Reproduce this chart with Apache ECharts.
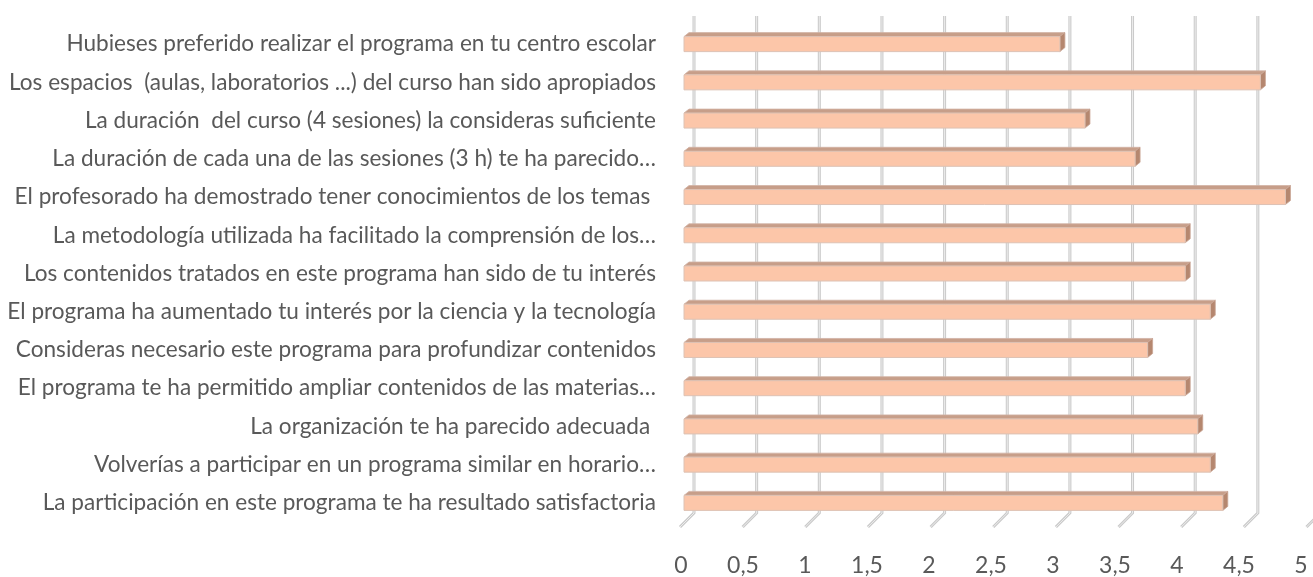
<!DOCTYPE html>
<html>
<head>
<meta charset="utf-8">
<script src="https://cdn.jsdelivr.net/npm/echarts@6/dist/echarts.min.js"></script>
<style>
html,body{margin:0;padding:0;background:#fff;}
#chart{width:1313px;height:577px;}
</style>
</head>
<body>
<div id="chart"></div>
<script>
const categories = [
  'Hubieses preferido realizar el programa en tu centro escolar',
  'Los espacios  (aulas, laboratorios ...) del curso han sido apropiados',
  'La duración  del curso (4 sesiones) la consideras suficiente',
  'La duración de cada una de las sesiones (3 h) te ha parecido…',
  'El profesorado ha demostrado tener conocimientos de los temas ',
  'La metodología utilizada ha facilitado la comprensión de los…',
  'Los contenidos tratados en este programa han sido de tu interés',
  'El programa ha aumentado tu interés por la ciencia y la tecnología',
  'Consideras necesario este programa para profundizar contenidos',
  'El programa te ha permitido ampliar contenidos de las materias…',
  'La organización te ha parecido adecuada ',
  'Volverías a participar en un programa similar en horario…',
  'La participación en este programa te ha resultado satisfactoria'
];
const values = [3.0, 4.6, 3.2, 3.6, 4.8, 4.0, 4.0, 4.2, 3.7, 4.0, 4.1, 4.2, 4.3];
const ticks = [0, 0.5, 1, 1.5, 2, 2.5, 3, 3.5, 4, 4.5, 5];
const tickLabels = ['0', '0,5', '1', '1,5', '2', '2,5', '3', '3,5', '4', '4,5', '5'];

const FONT = 'Lato, "Open Sans", sans-serif';
const chart = echarts.init(document.getElementById('chart'), null, {renderer: 'canvas'});

function renderGrid(params, api) {
  const cs = params.coordSys;
  const x = api.coord([api.value(0), 0])[0];
  const bottom = cs.y + cs.height;
  const pts = [[x + 10, cs.y - 9], [x + 10, bottom - 9], [x - 4, bottom + 5]];
  return {
    type: 'group',
    children: [
      {type: 'polyline', shape: {points: pts}, style: {stroke: '#c9c9c9', lineWidth: 3, fill: null}},
      {type: 'polyline', shape: {points: pts}, style: {stroke: '#ededed', lineWidth: 1, fill: null}}
    ]
  };
}

function renderBar(params, api) {
  const i = api.value(1);
  const p0 = api.coord([0, i]);
  const p1 = api.coord([api.value(0), i]);
  const cy = p0[1];
  const x0 = p0[0], x1 = p1[0];
  const t = cy - 7.5, b = cy + 7.5, dx = 5, dy = 4;
  return {
    type: 'group',
    children: [
      {type: 'polygon', shape: {points: [[x0, t], [x0 + dx, t - dy], [x1 + dx, t - dy], [x1, t]]},
        style: {fill: '#c79e89', stroke: '#d2b3a4', lineWidth: 0.8}},
      {type: 'polygon', shape: {points: [[x1, t], [x1 + dx, t - dy], [x1 + dx, b - dy], [x1, b]]},
        style: {fill: '#b5876f', stroke: '#c9a594', lineWidth: 0.8}},
      {type: 'rect', shape: {x: x0, y: t, width: x1 - x0, height: b - t},
        style: {fill: '#fcc6a9', stroke: '#ddc2b4', lineWidth: 1}}
    ]
  };
}

chart.setOption({
  animation: false,
  backgroundColor: '#ffffff',
  grid: [
    {left: 684, width: 626.5, top: 25, height: 497, containLabel: false},
    {left: 681, width: 620, top: 540, height: 10, containLabel: false}
  ],
  xAxis: [
    {gridIndex: 0, type: 'value', min: 0, max: 5, interval: 0.5, show: false},
    {gridIndex: 1, type: 'value', min: 0, max: 5, interval: 0.5,
      axisLine: {show: false}, axisTick: {show: false}, splitLine: {show: false},
      axisLabel: {margin: 4, color: '#595959', fontFamily: FONT, fontSize: 23,
        formatter: function (v) { return tickLabels[ticks.indexOf(v)]; }}}
  ],
  yAxis: [
    {gridIndex: 0, type: 'category', data: categories, inverse: true,
      axisLine: {show: false}, axisTick: {show: false}, splitLine: {show: false},
      axisLabel: {margin: 28, color: '#595959', fontFamily: FONT, fontSize: 22.6}},
    {gridIndex: 1, type: 'value', min: 0, max: 1, show: false}
  ],
  series: [
    {type: 'custom', xAxisIndex: 0, yAxisIndex: 0, renderItem: renderGrid, z: 1,
      data: ticks.map(t => [t, 0]), silent: true},
    {type: 'custom', xAxisIndex: 0, yAxisIndex: 0, renderItem: renderBar, z: 2,
      data: values.map((v, i) => [v, i]), silent: true}
  ]
});
</script>
</body>
</html>
